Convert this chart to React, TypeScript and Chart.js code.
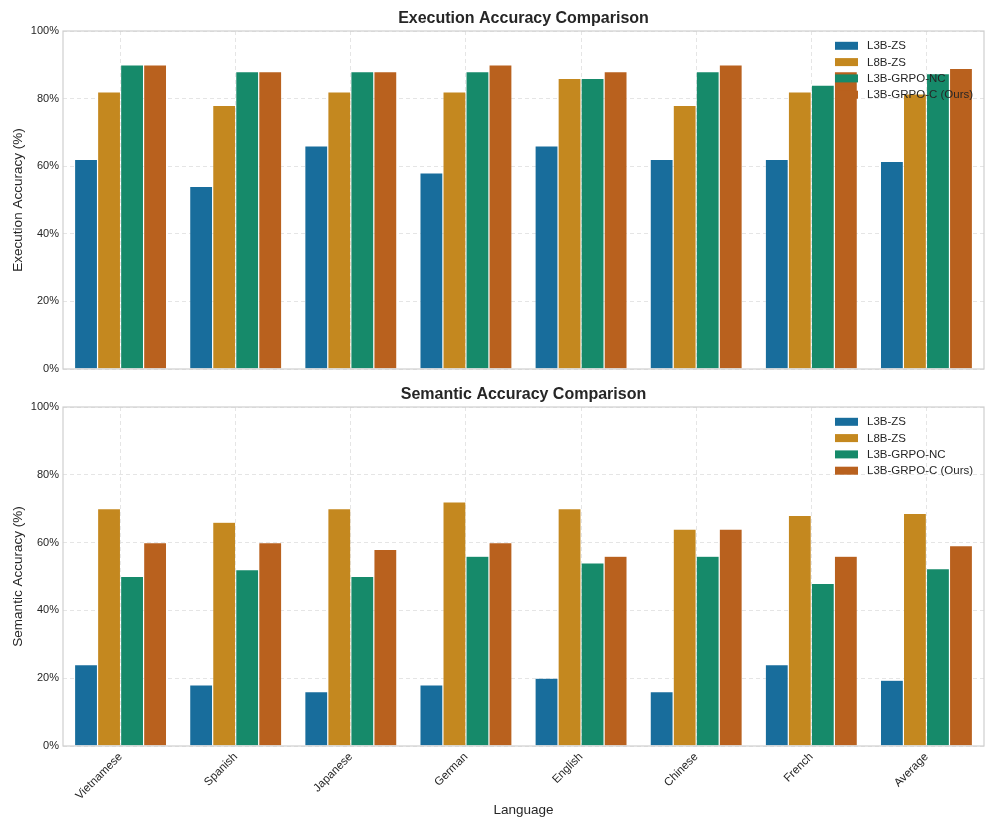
import React, { useEffect, useRef } from "react";
import { Chart, registerables } from "chart.js";
Chart.register(...registerables);

const languages = ["Vietnamese", "Spanish", "Japanese", "German", "English", "Chinese", "French", "Average"];
const seriesNames = ["L3B-ZS", "L8B-ZS", "L3B-GRPO-NC", "L3B-GRPO-C (Ours)"];
const seriesColors = ["#186d9c", "#c4881f", "#168a6a", "#b9611e"];

const execL3BZS = [62, 54, 66, 58, 66, 62, 62, 61.4];
const execL8BZS = [82, 78, 82, 82, 86, 78, 82, 81.4];
const execGRPONC = [90, 88, 88, 88, 86, 88, 84, 87.4];
const execGRPOC = [90, 88, 88, 90, 88, 90, 88, 88.9];

const semL3BZS = [24, 18, 16, 18, 20, 16, 24, 19.4];
const semL8BZS = [70, 66, 70, 72, 70, 64, 68, 68.6];
const semGRPONC = [50, 52, 50, 56, 54, 56, 48, 52.3];
const semGRPOC = [60, 60, 58, 60, 56, 64, 56, 59.1];

const yTicks = [0, 20, 40, 60, 80, 100];

const FONT = "'Liberation Sans', Arial, Helvetica, sans-serif";
const TEXT = "#262626";

function makeConfig(
  title: string,
  yLabel: string,
  series: number[][],
  showX: boolean,
  xHeight: number,
  topPad: number
): any {
  const overlay = {
    id: "overlay-" + title,
    afterDatasetsDraw(chart: any) {
      const { ctx, chartArea } = chart;
      ctx.save();
      ctx.strokeStyle = "#cfcfcf";
      ctx.lineWidth = 1.2;
      ctx.strokeRect(chartArea.left, chartArea.top, chartArea.right - chartArea.left, chartArea.bottom - chartArea.top);
      ctx.restore();
    },
    afterDraw(chart: any) {
      const { ctx, chartArea } = chart;
      ctx.save();
      ctx.fillStyle = TEXT;
      ctx.font = `bold 16px ${FONT}`;
      ctx.textAlign = "center";
      ctx.textBaseline = "middle";
      ctx.fillText(title, (chartArea.left + chartArea.right) / 2, chartArea.top - 12.5);
      const sx = chartArea.right - 149;
      ctx.font = `11.5px ${FONT}`;
      ctx.textAlign = "left";
      seriesNames.forEach((name, i) => {
        const cy = chartArea.top + 14.8 + i * 16.3;
        ctx.fillStyle = seriesColors[i];
        ctx.fillRect(sx, cy - 4, 23, 8);
        ctx.fillStyle = TEXT;
        ctx.fillText(name, sx + 32, cy + 0.5);
      });
      ctx.restore();
    },
  };

  return {
    type: "bar",
    data: {
      labels: languages,
      datasets: series.map((vals, i) => ({
        label: seriesNames[i],
        data: vals,
        backgroundColor: seriesColors[i],
        borderColor: "rgba(255,255,255,0.3)",
        borderWidth: 0.6,
        categoryPercentage: 0.8,
        barPercentage: 1.0,
      })),
    },
    options: {
      responsive: false,
      animation: false,
      devicePixelRatio: 1,
      layout: { padding: { top: topPad, right: 13, left: 0, bottom: 0 } },
      plugins: {
        legend: { display: false },
        title: { display: false },
        tooltip: { enabled: false },
      },
      scales: {
        x: {
          grid: { offset: false, color: "#dedede", lineWidth: 0.8, drawTicks: false },
          border: { display: false, dash: [4, 3] },
          ticks: {
            display: showX,
            maxRotation: 45,
            minRotation: 45,
            padding: 4,
            color: TEXT,
            font: { family: FONT, size: 11.5 },
          },
          title: {
            display: showX,
            text: "Language",
            color: TEXT,
            font: { family: FONT, size: 13.5 },
            padding: { top: 0, bottom: 12 },
          },
          afterFit(s: any) {
            s.height = xHeight;
          },
        },
        y: {
          min: 0,
          max: 100,
          afterBuildTicks(s: any) {
            s.ticks = yTicks.map((v) => ({ value: v }));
          },
          grid: { color: "#dedede", lineWidth: 0.8, drawTicks: false },
          border: { display: false, dash: [4, 3] },
          ticks: {
            padding: 4,
            color: TEXT,
            font: { family: FONT, size: 11 },
            callback: (v: any) => v + "%",
          },
          title: {
            display: true,
            text: yLabel,
            color: TEXT,
            font: { family: FONT, size: 13.5 },
            padding: { top: 10, bottom: 0 },
          },
          afterFit(s: any) {
            s.width = 63;
          },
        },
      },
    },
    plugins: [overlay],
  };
}

function ChartCanvas({ config, width, height, top }: { config: any; width: number; height: number; top: number }) {
  const ref = useRef<HTMLCanvasElement | null>(null);
  useEffect(() => {
    if (!ref.current) return;
    const chart = new Chart(ref.current, config);
    return () => chart.destroy();
  }, [config]);
  return (
    <canvas
      ref={ref}
      width={width}
      height={height}
      style={{ position: "absolute", left: 0, top, width, height }}
    />
  );
}

const topConfig = makeConfig(
  "Execution Accuracy Comparison",
  "Execution Accuracy (%)",
  [execL3BZS, execL8BZS, execGRPONC, execGRPOC],
  false,
  11,
  31
);
const bottomConfig = makeConfig(
  "Semantic Accuracy Comparison",
  "Semantic Accuracy (%)",
  [semL3BZS, semL8BZS, semGRPONC, semGRPOC],
  true,
  84,
  27
);

export default function App() {
  return (
    <div style={{ position: "absolute", left: 0, top: 0, width: 997, height: 830, background: "#ffffff" }}>
      <ChartCanvas config={topConfig} width={997} height={380} top={0} />
      <ChartCanvas config={bottomConfig} width={997} height={450} top={380} />
    </div>
  );
}
